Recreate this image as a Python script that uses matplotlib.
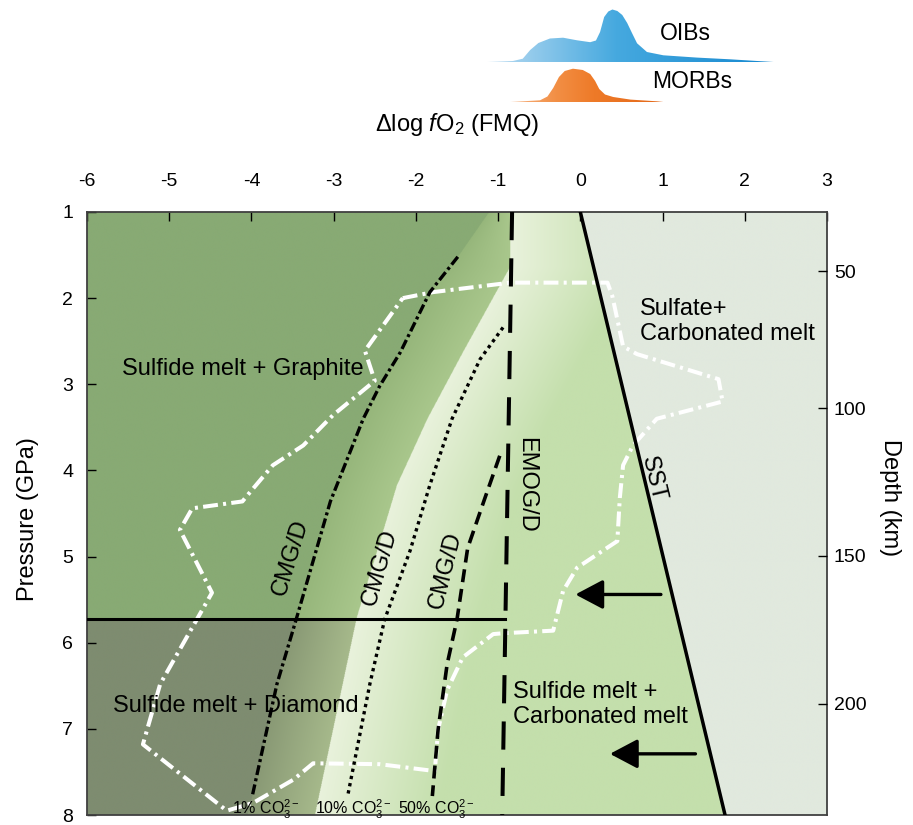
import numpy as np
import matplotlib.pyplot as plt
from matplotlib.colors import to_rgb, LinearSegmentedColormap
from matplotlib.patches import Polygon

plt.rcParams['font.family'] = ['Liberation Sans', 'DejaVu Sans']
plt.rcParams['mathtext.fontset'] = 'custom'
plt.rcParams['mathtext.rm'] = 'Liberation Sans'
plt.rcParams['mathtext.it'] = 'Liberation Sans:italic'
plt.rcParams['mathtext.bf'] = 'Liberation Sans:bold'
plt.rcParams['axes.unicode_minus'] = False

# fO2 distributions of oceanic basalts (relative density)
oib_fo2 = [-1.13, -0.82, -0.70, -0.61, -0.51, -0.37, -0.21, -0.04, 0.12, 0.19, 0.24,
           0.29, 0.34, 0.39, 0.45, 0.51, 0.57, 0.63, 0.69, 0.81, 1.01, 1.42, 1.82,
           2.15, 2.35]
oib_dens = [0, 1, 3.3, 12, 19, 23.5, 24.3, 21.7, 19.8, 21.5, 30,
            45, 50.5, 52.5, 51, 47, 39, 28.7, 18.7, 10, 6.7, 4.4, 2.7,
            1, 0]
morb_fo2 = [-0.85, -0.49, -0.40, -0.33, -0.26, -0.19, -0.09, 0.03, 0.12, 0.18, 0.23,
            0.30, 0.40, 0.61, 0.93, 1.01]
morb_dens = [0, 1.7, 5.5, 14, 25, 31, 33.3, 32, 28, 21, 13,
             7.5, 5, 2.4, 0.7, 0]

# CMG/D reactions for 1, 10 and 50 % CO3 in the melt
cmg1_x = [-1.49, -1.83, -2.19, -2.44, -2.64, -3.04, -3.45, -3.69, -3.99]
cmg1_p = [1.52, 1.93, 2.63, 3.02, 3.40, 4.36, 5.71, 6.48, 7.78]
cmg10_x = [-0.94, -1.22, -1.56, -1.83, -2.07, -2.38, -2.56, -2.83]
cmg10_p = [2.34, 2.71, 3.40, 4.17, 4.93, 5.73, 6.48, 7.78]
cmg50_x = [-0.98, -1.16, -1.37, -1.50, -1.62, -1.73, -1.80]
cmg50_p = [3.83, 4.32, 4.90, 5.73, 6.25, 7.01, 7.78]

# shaded transition band between reduced and carbonate-bearing fields
band_lo_x = [-1.11, -1.49, -1.83, -2.19, -2.44, -2.64, -3.04, -3.45, -3.69, -3.99, -4.05]
band_lo_p = [1.00, 1.52, 1.93, 2.63, 3.02, 3.40, 4.36, 5.71, 6.48, 7.78, 8.00]
band_hi_x = [-0.85, -1.43, -1.86, -2.23, -2.47, -2.72, -3.23]
band_hi_p = [1.63, 2.63, 3.40, 4.17, 4.93, 5.71, 8.01]

# EMOG/D, sulfide-sulfate transition and graphite-diamond pressure
emog_x = [-0.83, -0.95]
emog_p = [1.0, 8.0]
sst_x = [0.0, 1.76]
sst_p = [1.0, 8.0]
gd_p = 5.73

# fO2-P field of mantle peridotites
field_x = [-2.16, -1.79, -0.85, 0.33, 0.39, 0.52, 0.69, 1.68, 1.73, 0.93, 0.64, 0.52,
           0.48, 0.45, -0.04, -0.21, -0.33, -0.94, -1.06, -1.43, -1.62, -1.73, -1.77,
           -2.44, -3.25, -3.49, -3.98, -4.30, -5.32, -5.11, -4.48, -4.87, -4.72, -4.11,
           -4.05, -3.74, -3.37, -3.01, -2.50, -2.62, -2.16]
field_p = [2.00, 1.93, 1.82, 1.82, 1.98, 2.56, 2.65, 2.94, 3.20, 3.40, 3.71, 3.94,
           4.32, 4.82, 5.13, 5.40, 5.86, 5.89, 5.90, 6.17, 6.55, 7.01, 7.49,
           7.41, 7.40, 7.59, 7.86, 7.95, 7.18, 6.48, 5.42, 4.69, 4.44, 4.36,
           4.29, 3.94, 3.71, 3.36, 2.96, 2.61, 2.00]

# reduction arrows (start, end fO2 and pressure)
arrow_x0 = [0.98, 1.40]
arrow_x1 = [-0.06, 0.36]
arrow_p = [5.44, 7.29]

depth_km = [50, 100, 150, 200]
depth_p = [1.69, 3.28, 4.99, 6.71]

xticks = list(range(-6, 4))
yticks = list(range(1, 9))

fig = plt.figure(figsize=(9.13, 8.25), dpi=100)
ax = fig.add_axes([87 / 913, 10 / 825, 740 / 913, 603 / 825])

# ---- coloured phase fields ----
nx, ny = 1500, 1200
xs = np.linspace(-6, 3, nx)
ps = np.linspace(1, 8, ny)
X = np.broadcast_to(xs, (ny, nx))
PP = np.broadcast_to(ps[:, None], (ny, nx))


def edge(bx, bp):
    return np.interp(ps, bp, bx)[:, None]


def mix(c0, c1, t):
    c0 = np.array(to_rgb(c0))
    c1 = np.array(to_rgb(c1))
    return c0 + (c1 - c0) * t[..., None]


xa = edge(band_lo_x, band_lo_p)
xb = edge(band_hi_x, band_hi_p)
xe = edge(emog_x, emog_p)
xsst = edge(sst_x, sst_p)
xr = np.minimum(xb, xe)

deep = PP > gd_p
dark = X < xa
band = (X >= xa) & (X < xr)
pale = (X >= xr) & (X < xsst)
grey = X >= xsst

img = np.zeros((ny, nx, 3))
img[grey] = to_rgb('#E1E9DE')
pal = mix('#E9F2DC', '#C4DFAC', np.clip((X - xr) / 1.5, 0, 1))
img[pale] = pal[pale]
tb = np.clip((X - xa) / (xr - xa), 0, 1)
up = mix('#96B67B', '#A9C78C', tb)
lo = mix('#899975', '#A6B98B', tb)
img[band & ~deep] = up[band & ~deep]
img[band & deep] = lo[band & deep]
img[dark & ~deep] = to_rgb('#88AA74')
img[dark & deep] = to_rgb('#7E8C70')

ax.imshow(img, extent=(-6, 3, 8, 1), origin='upper', aspect='auto', zorder=0)

# ---- boundaries ----
ax.plot(field_x, field_p, color='white', lw=2.9, ls=(0, (3.7, 1.3, 0.75, 1.3)), zorder=2)
ax.plot(cmg1_x, cmg1_p, color='black', lw=2.4, ls=(0, (3, 1, 0.9, 1)), zorder=3)
ax.plot(cmg10_x, cmg10_p, color='black', lw=2.4, ls=(0, (1, 1.2)), zorder=3)
ax.plot(cmg50_x, cmg50_p, color='black', lw=2.6, ls=(0, (3.6, 1.9)), zorder=3)
ax.plot(emog_x, emog_p, color='black', lw=2.9, ls=(0, (7, 4.5)), zorder=3)
ax.plot(sst_x, sst_p, color='black', lw=2.5, zorder=3)
emog_at_gd = np.interp(gd_p, emog_p, emog_x)
ax.plot([-6, emog_at_gd], [gd_p, gd_p], color='black', lw=2.2, zorder=3)

for x0, x1, p in zip(arrow_x0, arrow_x1, arrow_p):
    ax.annotate('', xy=(x1, p), xytext=(x0, p),
                arrowprops=dict(arrowstyle='-|>,head_length=0.85,head_width=0.45',
                                mutation_scale=20, lw=2.4, color='black',
                                shrinkA=0, shrinkB=0), zorder=4)

# ---- labels ----
fs = 17
ax.text(-5.57, 2.82, 'Sulfide melt + Graphite', fontsize=fs, va='center')
ax.text(-5.68, 6.74, 'Sulfide melt + Diamond', fontsize=fs, va='center')
ax.text(0.72, 2.27, 'Sulfate+\nCarbonated melt', fontsize=fs, va='center')
ax.text(-0.82, 6.72, 'Sulfide melt +\nCarbonated melt', fontsize=fs, va='center')
ax.text(-3.53, 5.01, 'CMG/D', fontsize=fs, rotation=73, ha='center', va='center',
        rotation_mode='anchor')
ax.text(-2.44, 5.13, 'CMG/D', fontsize=fs, rotation=74, ha='center', va='center',
        rotation_mode='anchor')
ax.text(-1.645, 5.16, 'CMG/D', fontsize=fs, rotation=76, ha='center', va='center',
        rotation_mode='anchor')
ax.text(-0.66, 4.17, 'EMOG/D', fontsize=fs, rotation=-90, ha='center', va='center')
ax.text(0.89, 4.10, 'SST', fontsize=fs, rotation=-76.5, ha='center', va='center',
        rotation_mode='anchor')
for xc, pct in zip([-3.83, -2.76, -1.75], ['1%', '10%', '50%']):
    ax.text(xc, 7.93, pct + r' CO$_3^{2-}$', fontsize=11.5, ha='center', va='center')

# ---- axes ----
ax.set_xlim(-6, 3)
ax.set_ylim(8, 1)
ax.set_xticks(xticks)
ax.set_yticks(yticks)
ax.tick_params(axis='x', top=True, bottom=False, labeltop=True, labelbottom=False,
               direction='in', length=6.5, width=1, labelsize=14, pad=16)
ax.tick_params(axis='y', left=True, right=False, direction='in', length=6.5, width=1,
               labelsize=14, pad=10)
for s in ax.spines.values():
    s.set_color('#404040')
    s.set_linewidth(1.3)

ax.set_xlabel(r'$\Delta$log $f$O$_2$ (FMQ)', fontsize=17)
ax.xaxis.set_label_position('top')
ax.xaxis.set_label_coords(0.5, 1.145)
ax.xaxis.label.set_va('center')
ax.set_ylabel('Pressure (GPa)', fontsize=17)
ax.yaxis.set_label_coords(-0.08, 0.49)
ax.yaxis.label.set_va('center')

ax2 = ax.twinx()
ax2.set_ylim(8, 1)
ax2.set_yticks(depth_p, labels=[str(d) for d in depth_km])
ax2.tick_params(axis='y', direction='in', length=6.5, width=1, labelsize=14, pad=5)
for s in ax2.spines.values():
    s.set_visible(False)
ax2.set_ylabel('Depth (km)', fontsize=17, rotation=270)
ax2.yaxis.set_label_coords(1.085, 0.526)
ax2.yaxis.label.set_va('center')

# ---- fO2 distributions above the diagram ----
top = fig.add_axes([87 / 913, 1 - 110 / 825, 740 / 913, 110 / 825])
top.set_axis_off()


def gradient_fill(axd, x, y, base, colors):
    x = np.asarray(x)
    y = np.asarray(y)
    verts = np.column_stack([np.r_[x[0], x, x[-1]], np.r_[base, y + base, base]])
    poly = Polygon(verts, closed=True, fc='none', ec='none')
    axd.add_patch(poly)
    cmap = LinearSegmentedColormap.from_list('g', colors)
    im = axd.imshow(np.linspace(0, 1, 256)[None, :], cmap=cmap, aspect='auto',
                    extent=(x[0], x[-1], base, base + y.max()), origin='lower')
    im.set_clip_path(poly)


gradient_fill(top, oib_fo2, oib_dens, 48,
              [(0, '#BCDCF2'), (0.45, '#46A9DF'), (1, '#1588D0')])
gradient_fill(top, morb_fo2, morb_dens, 8,
              [(0, '#F7B483'), (0.3, '#F28F45'), (0.55, '#EE7A28'), (1, '#E4691A')])
top.text(0.97, 77, 'OIBs', fontsize=16.5, va='center')
top.text(0.87, 28, 'MORBs', fontsize=16.5, va='center')
top.set_xlim(-6, 3)
top.set_ylim(0, 110)

fig.savefig('out.png', dpi=100)
